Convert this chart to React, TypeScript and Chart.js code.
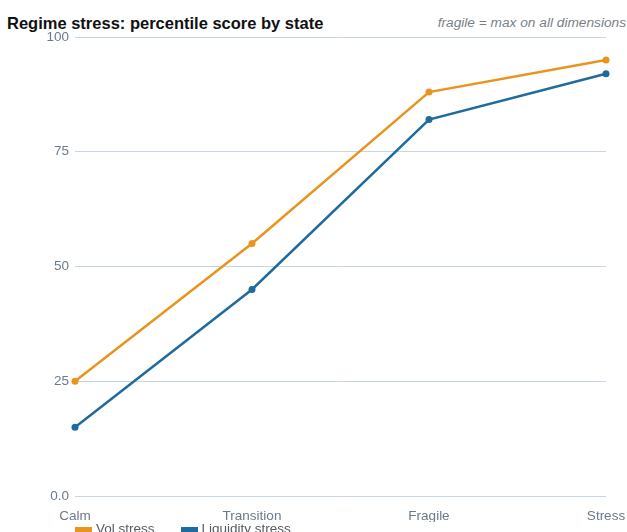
import React, { useEffect, useRef } from "react";
import { Chart, registerables } from "chart.js";

Chart.register(...registerables);

const categories = ["Calm", "Transition", "Fragile", "Stress"];
const volStress = [25, 55, 88, 95];
const liquidityStress = [15, 45, 82, 92];
const yTicks = [0, 25, 50, 75, 100];
const seriesNames = ["Vol stress", "Liquidity stress"];
const seriesColors = ["#E8941E", "#1F6B9E"];

const FONT = "'Liberation Sans', Arial, Helvetica, sans-serif";

export default function App() {
  const canvasRef = useRef<HTMLCanvasElement | null>(null);

  useEffect(() => {
    const canvas = canvasRef.current;
    if (!canvas) return;
    const chart = new Chart(canvas, {
      type: "line",
      data: {
        labels: categories,
        datasets: [
          {
            label: seriesNames[0],
            data: volStress,
            borderColor: seriesColors[0],
            backgroundColor: seriesColors[0],
            borderWidth: 2.5,
            pointRadius: 3.5,
            pointBorderWidth: 0,
            tension: 0,
          },
          {
            label: seriesNames[1],
            data: liquidityStress,
            borderColor: seriesColors[1],
            backgroundColor: seriesColors[1],
            borderWidth: 2.5,
            pointRadius: 3.5,
            pointBorderWidth: 0,
            tension: 0,
          },
        ],
      },
      options: {
        animation: false,
        responsive: false,
        maintainAspectRatio: false,
        layout: { padding: { top: 37, right: 21, left: 0, bottom: 0 } },
        plugins: {
          legend: { display: false },
          title: { display: false },
          tooltip: { enabled: false },
        },
        scales: {
          x: {
            type: "category",
            offset: false,
            grid: { display: false, drawTicks: false },
            border: { display: false },
            ticks: {
              color: "#6B7A8B",
              font: { family: FONT, size: 13.5 },
              padding: 12,
              maxRotation: 0,
              autoSkip: false,
            },
            afterFit: (s: any) => {
              s.height = 26;
              s.paddingLeft = 0;
              s.paddingRight = 0;
            },
          },
          y: {
            min: 0,
            max: 100,
            afterBuildTicks: (s: any) => {
              s.ticks = yTicks.map((v) => ({ value: v }));
            },
            grid: { color: "#C8D5E2", lineWidth: 1, drawTicks: false },
            border: { display: false },
            ticks: {
              color: "#6B7A8B",
              font: { family: FONT, size: 13.5 },
              padding: 6,
              callback: (v: any) => (Number(v) === 0 ? "0.0" : String(v)),
            },
            afterFit: (s: any) => {
              s.width = 75;
              s.paddingTop = 0;
              s.paddingBottom = 0;
            },
          },
        },
      },
    });
    return () => chart.destroy();
  }, []);

  return (
    <div
      style={{
        position: "fixed",
        left: 0,
        top: 0,
        width: 627,
        height: 532,
        overflow: "hidden",
        background: "#ffffff",
        fontFamily: FONT,
      }}
    >
      <div
        style={{
          position: "absolute",
          left: 7,
          top: 13,
          fontWeight: "bold",
          fontSize: 16.5,
          lineHeight: "20px",
          color: "#111111",
          whiteSpace: "nowrap",
        }}
      >
        Regime stress: percentile score by state
      </div>
      <div
        style={{
          position: "absolute",
          right: 1,
          top: 15,
          fontStyle: "italic",
          fontSize: 13.7,
          lineHeight: "16px",
          color: "#7A7F87",
          whiteSpace: "nowrap",
        }}
      >
        fragile = max on all dimensions
      </div>
      <canvas
        ref={canvasRef}
        width={627}
        height={522}
        style={{ position: "absolute", left: 0, top: 0, width: 627, height: 522 }}
      />
      <div
        style={{
          position: "absolute",
          left: 75,
          top: 520.5,
          display: "flex",
          alignItems: "flex-start",
          fontSize: 13.5,
          lineHeight: "16px",
          color: "#555B63",
          whiteSpace: "nowrap",
        }}
      >
        {seriesNames.map((name, i) => (
          <div
            key={name}
            style={{ display: "flex", alignItems: "flex-start", marginRight: 26 }}
          >
            <span
              style={{
                display: "inline-block",
                width: 17,
                height: 14,
                marginTop: 6.5,
                background: seriesColors[i],
                marginRight: 4,
              }}
            />
            <span>{name}</span>
          </div>
        ))}
      </div>
    </div>
  );
}
